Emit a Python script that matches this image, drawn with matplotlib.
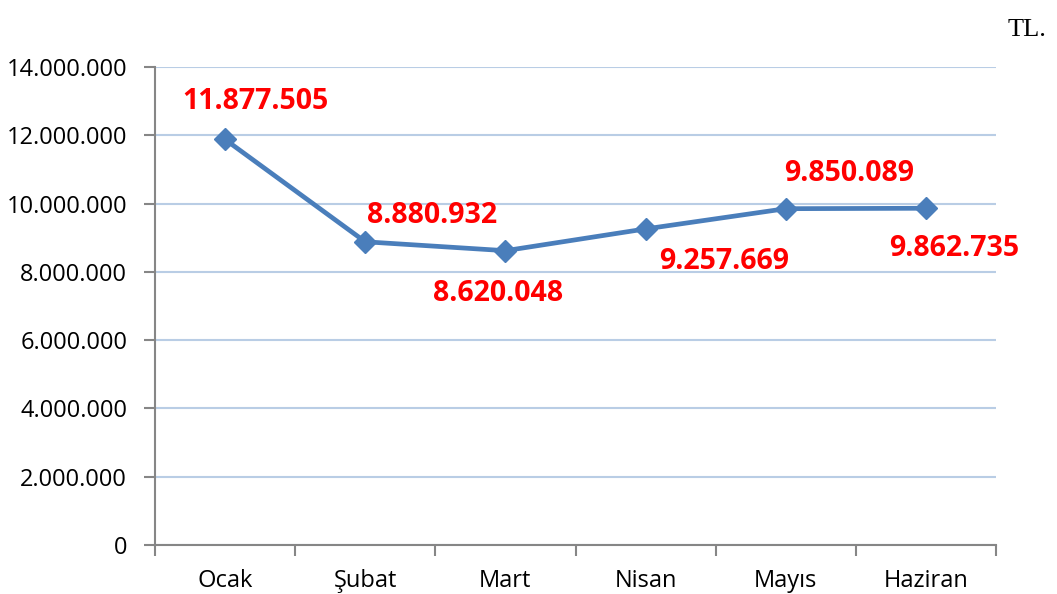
import numpy as np
import matplotlib
matplotlib.use('Agg')
import matplotlib.pyplot as plt

months = ['Ocak', 'Şubat', 'Mart', 'Nisan', 'Mayıs', 'Haziran']
values = [11877505, 8880932, 8620048, 9257669, 9850089, 9862735]
label_offsets = [(30, 38), (67, 26), (-7, -43), (79, -33), (63, 35), (28, -40)]
yticks = [0, 2000000, 4000000, 6000000, 8000000, 10000000, 12000000, 14000000]


def tr_fmt(v):
    return f'{int(v):,}'.replace(',', '.')


plt.rcParams['font.family'] = ['Open Sans', 'DejaVu Sans']

fig = plt.figure(figsize=(10.57, 5.94), dpi=100)
ax = fig.add_axes([155 / 1057, 49 / 594, 841 / 1057, 478 / 594])

x = np.arange(len(months))
ax.plot(x, values, color='#4a7ebb', lw=3.4, marker='D', ms=11,
        markerfacecolor='#4a7ebb', markeredgecolor='#4a7ebb', zorder=3)

for xi, v, (dx, dy) in zip(x, values, label_offsets):
    ax.annotate(tr_fmt(v), (xi, v), xytext=(dx, dy), textcoords='offset pixels',
                ha='center', va='center', color='#ff0000', fontsize=20.5,
                fontweight='bold')

ax.set_xlim(-0.5, len(months) - 0.5)
ax.set_ylim(0, 14000000)
ax.set_yticks(yticks)
ax.set_yticklabels([tr_fmt(t) for t in yticks], fontsize=17)
ax.set_xticks(x)
ax.set_xticklabels(months, fontsize=17)
ax.set_xticks(np.arange(-0.5, len(months)), minor=True)
ax.tick_params(axis='x', which='major', length=0, pad=17)
ax.tick_params(axis='x', which='minor', length=8, color='#868686', width=1.5)
ax.tick_params(axis='y', length=8, color='#868686', width=1.5, pad=12)

ax.grid(axis='y', color='#b9cde5', lw=1.5)
ax.set_axisbelow(True)
for s in ['top', 'right']:
    ax.spines[s].set_visible(False)
for s in ['left', 'bottom']:
    ax.spines[s].set_color('#868686')
    ax.spines[s].set_linewidth(1.5)

fig.text(1027 / 1057, 1 - 30 / 594, 'TL.', family='Liberation Serif', fontsize=19,
         ha='center', va='center')

fig.savefig('out.png', dpi=100)
